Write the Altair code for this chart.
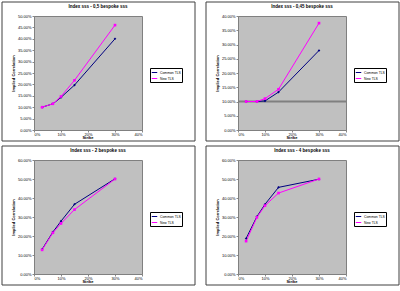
import altair as alt
import pandas as pd

strikes = [0.03, 0.07, 0.10, 0.15, 0.30]
series_names = ["Common TLS", "New TLS"]

titles = [
    "Index sss - 0,5 bespoke sss",
    "Index sss - 0,45 bespoke sss",
    "Index sss - 2 bespoke sss",
    "Index sss - 4 bespoke sss",
]
common_vals = [
    [0.100, 0.115, 0.143, 0.197, 0.400],
    [0.100, 0.100, 0.102, 0.133, 0.279],
    [0.130, 0.221, 0.278, 0.367, 0.501],
    [0.187, 0.302, 0.367, 0.456, 0.499],
]
new_vals = [
    [0.100, 0.115, 0.147, 0.218, 0.460],
    [0.100, 0.100, 0.110, 0.143, 0.375],
    [0.127, 0.217, 0.266, 0.339, 0.500],
    [0.173, 0.298, 0.360, 0.426, 0.500],
]
y_max = [0.50, 0.40, 0.60, 0.60]
y_step = [0.05, 0.05, 0.10, 0.10]
ref_lines = [None, 0.10, None, None]

PW, PH = 108, 114
FONT = "Liberation Sans"
COLORS = ["#000080", "#FF00FF"]
SHAPES = ["diamond", "square"]


def panel(i):
    rows = []
    for s, c, n in zip(strikes, common_vals[i], new_vals[i]):
        rows.append({"strike": s, "value": c, "series": series_names[0]})
        rows.append({"strike": s, "value": n, "series": series_names[1]})
    df = pd.DataFrame(rows)
    nt = int(round(y_max[i] / y_step[i]))
    yticks = [round(k * y_step[i], 4) for k in range(nt + 1)]
    xaxis = alt.Axis(format=".0%", values=[0, 0.1, 0.2, 0.3, 0.4],
                     title=None, grid=False, labelFontSize=4,
                     tickSize=2, labelPadding=0, domainColor="#808080",
                     labelOverlap=False)
    yaxis = alt.Axis(format=".2%", values=yticks, title="Implied Correlation",
                     grid=False, labelFontSize=4, titleFontSize=4,
                     titlePadding=2, tickSize=2, labelPadding=1,
                     domainColor="#808080", labelOverlap=False,
                     titleFontWeight="bold")
    yscale = alt.Scale(domain=[0, y_max[i]], nice=False)
    x = alt.X("strike:Q", scale=alt.Scale(domain=[0, 0.4], nice=False), axis=xaxis)
    y = alt.Y("value:Q", scale=yscale, axis=yaxis)
    color = alt.Color("series:N",
                      scale=alt.Scale(domain=series_names, range=COLORS),
                      legend=alt.Legend(title=None, orient="none", legendX=PW + 8,
                                        legendY=PH / 2 - 5, labelFontSize=3.4,
                                        symbolType="stroke", symbolSize=30,
                                        symbolStrokeWidth=1, fillColor="white",
                                        strokeColor="black", padding=1,
                                        rowPadding=0, labelOffset=2,
                                        labelLimit=60))
    base = alt.Chart(df)
    layers = []
    if ref_lines[i] is not None:
        layers.append(alt.Chart(pd.DataFrame({"value": [ref_lines[i]]})).mark_rule(
            color="#808080", strokeWidth=2).encode(y=y))
    layers.append(base.mark_line(strokeWidth=1).encode(x=x, y=y, color=color))
    for name, shp in zip(series_names, SHAPES):
        layers.append(base.transform_filter(alt.datum.series == name).mark_point(
            filled=True, size=7, shape=shp, opacity=1).encode(x=x, y=y, color=color))
    one = pd.DataFrame({"a": [0]})
    layers.append(alt.Chart(one).mark_text(
        text=titles[i], fontSize=4.5, fontWeight="bold", font=FONT, clip=False,
        align="center", baseline="middle").encode(
        x=alt.value(PW / 2 + 10), y=alt.value(-9)))
    layers.append(alt.Chart(one).mark_text(
        text="Strike", fontSize=4, fontWeight="bold", font=FONT, clip=False,
        align="center", baseline="middle").encode(
        x=alt.value(PW / 2), y=alt.value(PH + 8)))
    layers.append(alt.Chart(one).mark_rect(
        fill=None, stroke="#404040", strokeWidth=1, clip=False).encode(
        x=alt.value(-32), x2=alt.value(PW + 53), y=alt.value(-14), y2=alt.value(PH + 11)))
    return alt.layer(*layers).properties(
        width=PW, height=PH,
        view=alt.ViewBackground(fill="#C0C0C0", stroke="#808080", strokeWidth=1),
    )


top = alt.hconcat(panel(0), panel(1), spacing=9).resolve_scale(color="independent")
bot = alt.hconcat(panel(2), panel(3), spacing=9).resolve_scale(color="independent")
chart = alt.vconcat(top, bot, spacing=3).resolve_scale(color="independent").properties(
    padding={"left": 1, "top": 1, "right": 0, "bottom": 0},
    background="white",
).configure(font=FONT).configure_axis(labelFont=FONT, titleFont=FONT).configure_legend(labelFont=FONT)

chart.save("out.html", embed_options={"renderer": "svg", "actions": False})
